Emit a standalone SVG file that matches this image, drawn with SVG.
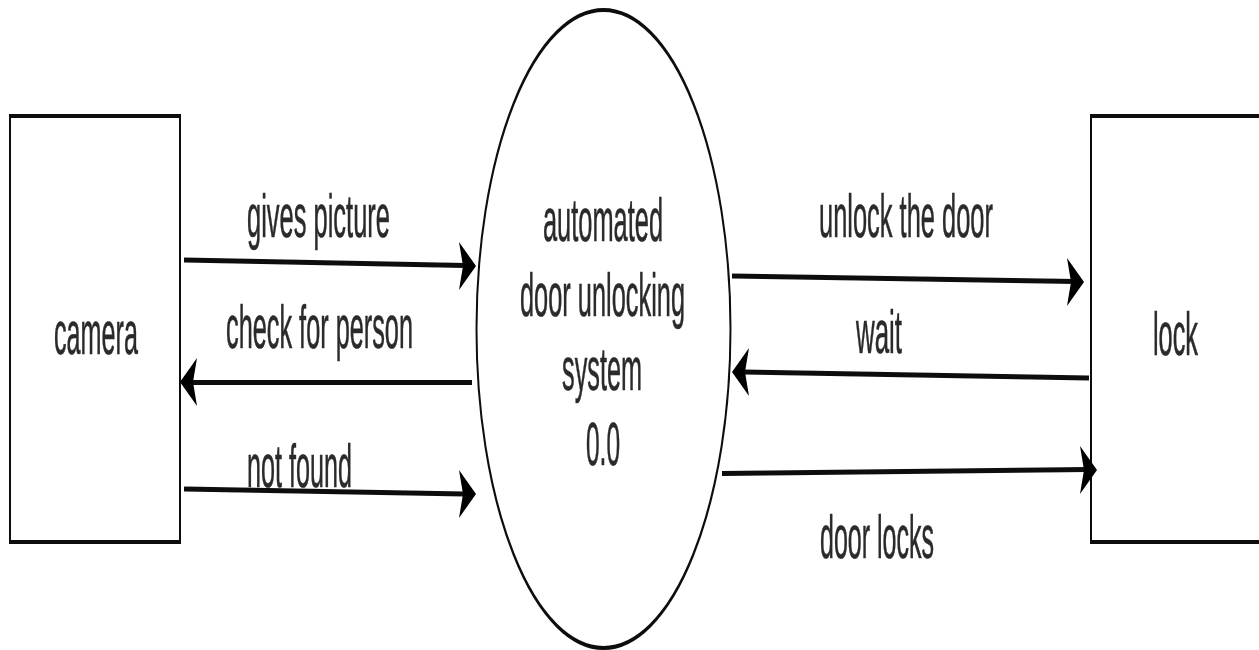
<svg xmlns="http://www.w3.org/2000/svg" width="1259" height="650" viewBox="0 0 1259 650">
<style>
.shape{fill:#fff;stroke:#111;stroke-width:2}
.lbl{font-family:"Liberation Sans",Arial,sans-serif;font-size:25.5px;fill:#2b2b2b;stroke:#2b2b2b;stroke-width:.25}
.line{fill:none;stroke:#111;stroke-width:5}
.head{fill:#000}
</style>
<defs>
<filter id="soft" x="-5%" y="-5%" width="110%" height="110%"><feGaussianBlur stdDeviation="0.6"/></filter>
<polygon id="hr" points="0,0 -17,-24 -13,0 -17,24"/>
<polygon id="hl" points="0,0 17,-24 13,0 17,24"/>
</defs>
<rect width="1259" height="650" fill="#fff"/>
<g filter="url(#soft)">
<g id="node-camera">
<rect class="shape" x="10" y="58" width="170" height="213" transform="scale(1 2)"/>
<text class="lbl" transform="translate(54 354) scale(1 2.43)" textLength="84" lengthAdjust="spacingAndGlyphs">camera</text>
</g>
<g id="node-system">
<ellipse class="shape" cx="603.5" cy="164.5" rx="127" ry="159.5" transform="scale(1 2)"/>
<text class="lbl" transform="translate(543 241) scale(1 2.43)" textLength="120" lengthAdjust="spacingAndGlyphs">automated</text>
<text class="lbl" transform="translate(520 316) scale(1 2.43)" textLength="165" lengthAdjust="spacingAndGlyphs">door unlocking</text>
<text class="lbl" transform="translate(562 390) scale(1 2.43)" textLength="80" lengthAdjust="spacingAndGlyphs">system</text>
<text class="lbl" transform="translate(586 465) scale(1 2.43)" textLength="34" lengthAdjust="spacingAndGlyphs">0.0</text>
</g>
<g id="node-lock">
<rect class="shape" x="1091" y="58" width="180" height="213" transform="scale(1 2)"/>
<text class="lbl" transform="translate(1153 355) scale(1 2.43)" textLength="45" lengthAdjust="spacingAndGlyphs">lock</text>
</g>
<g id="connectors">
<g id="edge-gives-picture">
<line class="line" x1="184" y1="260" x2="465" y2="265.5"/>
<use class="head" href="#hr" x="476" y="266"/>
<text class="lbl" transform="translate(247 237) scale(1 2.43)" textLength="143" lengthAdjust="spacingAndGlyphs">gives picture</text>
</g>
<g id="edge-check-for-person">
<line class="line" x1="472" y1="382.5" x2="192" y2="382.5"/>
<use class="head" href="#hl" x="180" y="382"/>
<text class="lbl" transform="translate(226 348) scale(1 2.43)" textLength="187" lengthAdjust="spacingAndGlyphs">check for person</text>
</g>
<g id="edge-not-found">
<line class="line" x1="184" y1="489" x2="465" y2="494"/>
<use class="head" href="#hr" x="476" y="494"/>
<text class="lbl" transform="translate(247 487) scale(1 2.43)" textLength="105" lengthAdjust="spacingAndGlyphs">not found</text>
</g>
<g id="edge-unlock">
<line class="line" x1="732" y1="276" x2="1075" y2="281.5"/>
<use class="head" href="#hr" x="1084" y="282"/>
<text class="lbl" transform="translate(819 237) scale(1 2.43)" textLength="174" lengthAdjust="spacingAndGlyphs">unlock the door</text>
</g>
<g id="edge-wait">
<line class="line" x1="1089" y1="378" x2="743" y2="372"/>
<use class="head" href="#hl" x="732" y="372"/>
<text class="lbl" transform="translate(856 353) scale(1 2.43)" textLength="46" lengthAdjust="spacingAndGlyphs">wait</text>
</g>
<g id="edge-door-locks">
<line class="line" x1="722" y1="473.5" x2="1087" y2="469.5"/>
<use class="head" href="#hr" x="1097" y="470"/>
<text class="lbl" transform="translate(820 558) scale(1 2.43)" textLength="114" lengthAdjust="spacingAndGlyphs">door locks</text>
</g>
</g>
</g>
</svg>
